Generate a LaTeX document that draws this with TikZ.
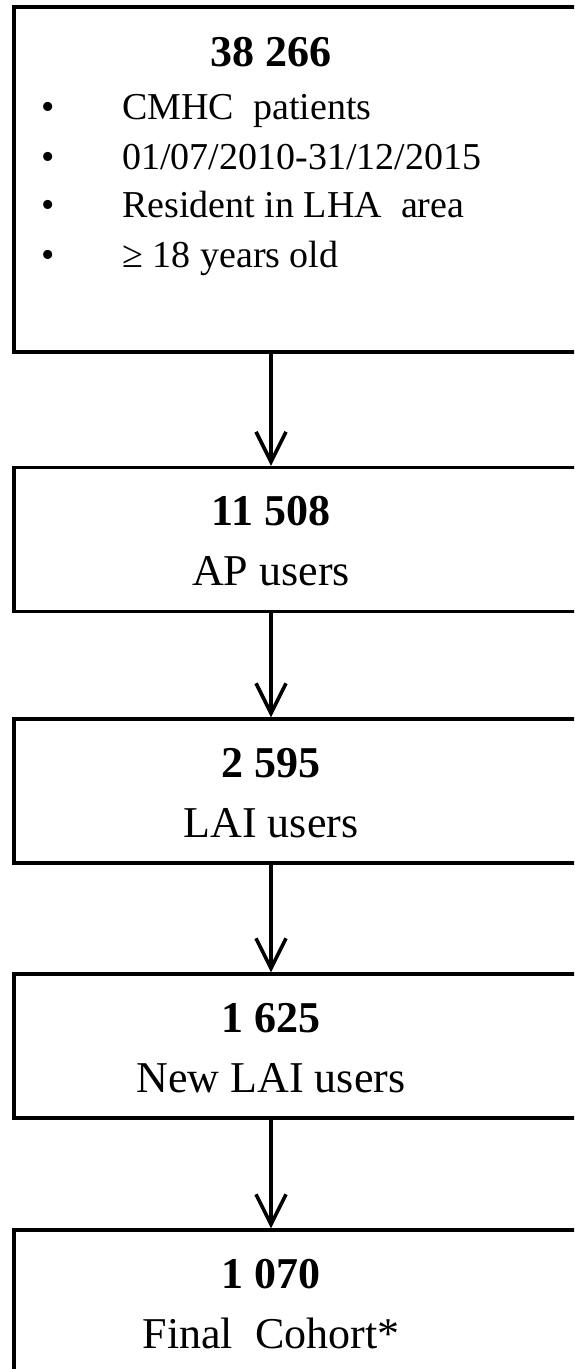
\documentclass[tikz,border=0pt]{standalone}
\usepackage{fontspec}
\setmainfont{Liberation Serif}
\usetikzlibrary{positioning,arrows.meta}

\begin{document}
\begin{tikzpicture}[
    x=0.5pt,y=-0.5pt,
    box/.style={draw,line width=1.7pt,inner sep=0pt,minimum width=303pt,minimum height=72pt},
    num/.style={anchor=base,inner sep=0pt,font=\fontsize{22}{26}\selectfont\bfseries},
    lbl/.style={anchor=base,inner sep=0pt,font=\fontsize{22}{26}\selectfont},
    item/.style={anchor=base west,inner sep=0pt,font=\fontsize{19}{23}\selectfont},
    arr/.style={-{Straight Barb[length=15pt,width=15pt]},line width=1.8pt}
  ]
    \useasboundingbox (0,0) rectangle (574,1369);
    \clip (0,0) rectangle (574,1369);
    % first box with the criteria
    \node[box,minimum height=172.5pt] (box1) at (317,179.5) {};
    \node[num] (num1) at (271,67) {38 266};
    \foreach \i/\y/\t in {1/120/{CMHC\ \ patients},2/170/{01/07/2010-31/12/2015},
                         3/218/{Resident in LHA\ \ area},4/268/{≥ 18 years old}}{
      \node[item,anchor=base] (dot\i) at (48,\y) {•};
      \node[item] (crit\i) at (122,\y) {\t};
    }
    % the following steps
    \foreach \i/\y/\n/\t in {2/539.5/11 508/AP users,3/791/2 595/LAI users,
                            4/1046/1 625/New LAI users,5/1302/1 070/Final\ \ Cohort*}{
      \node[box] (box\i) at (317,\y) {};
      \node[num] (num\i) at (271,\y-14) {\n};
      \node[lbl] (lbl\i) at (271,\y+46) {\t};
    }
    \foreach \a/\b in {1/2,2/3,3/4,4/5}{
      \draw[arr] (box\a.south -| num\b) -- (box\b.north -| num\b);
    }
\end{tikzpicture}
\end{document}
